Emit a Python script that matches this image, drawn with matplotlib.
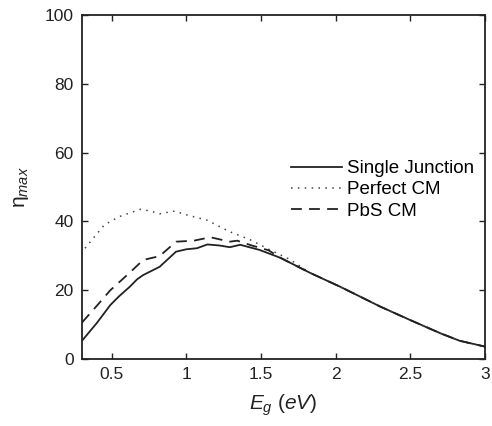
import matplotlib
matplotlib.use("Agg")
import matplotlib.pyplot as plt
import numpy as np

plt.rcParams['font.family'] = ['Liberation Sans', 'DejaVu Sans']
plt.rcParams['mathtext.fontset'] = 'custom'
plt.rcParams['mathtext.rm'] = 'Liberation Sans'
plt.rcParams['mathtext.it'] = 'Liberation Sans:italic'

# band gap (eV) and max efficiency (%)
eg_sj = [0.30, 0.40, 0.49, 0.55, 0.62, 0.67, 0.71, 0.82, 0.87, 0.93, 1.00, 1.07,
         1.14, 1.22, 1.29, 1.36, 1.49, 1.63, 1.83, 2.03, 2.30, 2.50, 2.70, 2.83, 3.00]
eta_sj = [5.3, 10.5, 15.7, 18.3, 21.0, 23.2, 24.4, 26.8, 28.8, 31.2, 31.9, 32.2,
          33.3, 33.0, 32.5, 33.2, 31.7, 29.4, 25.0, 21.0, 15.2, 11.3, 7.5, 5.3, 3.6]

eg_pcm = [0.32, 0.45, 0.55, 0.69, 0.76, 0.82, 0.92, 1.00, 1.135, 1.29, 1.43, 1.56,
          1.69, 1.83, 2.03, 2.30, 2.50, 2.70, 2.83, 3.00]
eta_pcm = [32.2, 39.0, 41.4, 43.5, 43.0, 42.2, 43.0, 41.9, 40.4, 37.0, 34.6, 31.7,
           29.0, 25.0, 21.0, 15.2, 11.3, 7.5, 5.3, 3.6]

eg_pbs = [0.30, 0.40, 0.49, 0.62, 0.71, 0.82, 0.93, 1.05, 1.16, 1.29, 1.34, 1.43,
          1.55, 1.63, 1.83, 2.03, 2.30, 2.50, 2.70, 2.83, 3.00]
eta_pbs = [10.6, 15.5, 20.0, 25.1, 28.8, 29.9, 34.1, 34.4, 35.4, 34.1, 34.4, 33.1,
           31.6, 29.4, 25.0, 21.0, 15.2, 11.3, 7.5, 5.3, 3.6]

col = '#222222'

fig = plt.figure(figsize=(4.92, 4.26), dpi=100)
ax = fig.add_axes([82/492, 1-359/426, 403/492, 344/426])

ax.plot(eg_sj, eta_sj, '-', color=col, lw=1.3, label='Single Junction')
ax.plot(eg_pcm, eta_pcm, ':', color='#444444', lw=1.1, dashes=(1, 3.5), label='Perfect CM')
ax.plot(eg_pbs, eta_pbs, '--', color=col, lw=1.3, dashes=(6, 4), label='PbS CM')

ax.set_xlim(0.3, 3)
ax.set_ylim(0, 100)
ax.set_xticks([0.5, 1, 1.5, 2, 2.5, 3])
ax.set_xticklabels(['0.5', '1', '1.5', '2', '2.5', '3'])
ax.set_yticks([0, 20, 40, 60, 80, 100])
ax.tick_params(direction='in', top=True, right=True, length=4, width=1,
               labelsize=12.5, colors=col, pad=6)
for s in ax.spines.values():
    s.set_linewidth(1.3)
    s.set_color(col)

ax.set_xlabel(r'$E_g\ (eV)$', fontsize=15, color=col, labelpad=7)
ax.set_ylabel(r'$\mathrm{\eta}_{max}$', fontsize=15, color=col, labelpad=10)

leg = ax.legend(loc='upper left', bbox_to_anchor=(0.5, 0.60), frameon=False,
                fontsize=13.5, handlelength=2.7, handletextpad=0.3,
                labelspacing=0.22, borderaxespad=0)

fig.savefig('out.png', dpi=100)
